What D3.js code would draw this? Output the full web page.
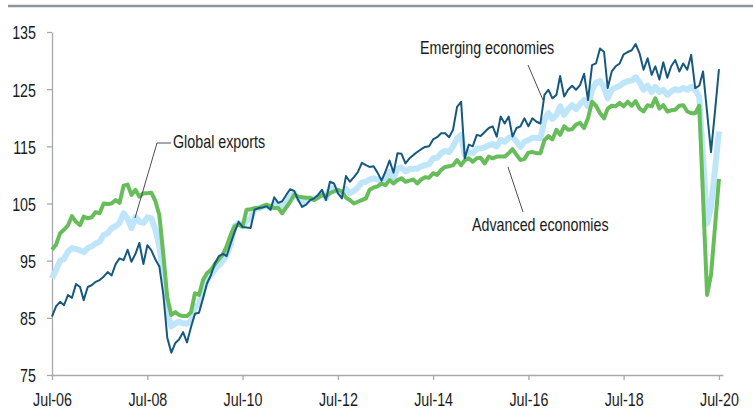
<!DOCTYPE html>
<html>
<head>
<meta charset="utf-8">
<script src="https://cdn.jsdelivr.net/npm/d3@7"></script>
<style>
  body { margin: 0; background: #fff; }
  text { font-family: "Liberation Sans", Arial, sans-serif; fill: #1a1a1a; }
</style>
</head>
<body>
<script>
// monthly index values, Jul-06 .. Jul-20
var emerging = [85.2,87.0,87.8,87.2,89.0,88.5,90.9,90.4,88.1,90.4,90.7,91.3,91.6,92.2,93.0,92.4,94.4,95.4,95.1,96.9,94.8,96.2,98.1,94.4,
  97.7,96.8,95.2,94.0,89.0,81.5,78.9,80.6,81.2,82.5,80.7,83.4,85.7,85.9,88.4,91.0,92.5,94.5,95.8,96.2,95.8,98.0,100.0,101.8,
  100.9,100.8,100.7,103.9,104.2,104.3,104.5,103.9,106.1,105.1,105.4,106.5,107.5,107.2,105.6,104.4,104.8,105.6,105.9,106.5,107.4,105.6,108.8,108.5,
  106.8,105.9,109.8,108.8,109.6,110.5,112.1,111.7,111.4,111.5,110.4,109.0,110.6,112.5,110.4,113.8,113.7,112.0,112.9,113.5,114.0,114.5,114.9,115.0,
  116.2,116.6,117.3,117.3,116.6,117.9,121.9,122.8,112.9,115.3,115.0,117.0,116.8,117.5,118.2,118.5,116.7,120.2,119.0,120.2,116.7,118.2,118.5,119.9,
  118.5,119.9,119.3,119.0,124.0,124.9,123.4,124.0,127.3,123.7,124.9,125.6,124.9,125.7,127.7,123.1,129.2,129.5,132.1,131.5,125.2,128.1,129.0,129.5,
  131.1,131.5,131.8,132.9,131.2,128.4,130.4,127.5,129.0,126.7,129.7,127.0,129.0,130.1,128.1,129.5,128.4,131.0,125.2,125.6,128.1,121.0,114.0,121.2,
  128.5];
var advanced = [96.9,97.8,99.8,100.4,101.2,102.8,101.8,101.2,102.7,102.4,102.6,103.5,103.3,105.0,104.9,105.0,105.6,105.1,108.1,108.3,106.5,107.4,106.2,106.8,
  106.8,106.9,105.4,103.0,96.0,88.5,85.5,86.0,85.5,85.3,85.3,86.0,89.3,89.0,91.6,92.8,93.4,94.4,95.3,96.1,97.5,99.5,101.0,101.3,
  101.0,103.9,104.0,104.2,104.2,104.5,104.8,104.5,104.2,104.2,103.3,104.3,105.3,106.5,106.2,106.1,106.0,106.0,105.6,106.0,106.5,106.3,106.8,107.1,
  107.4,107.1,106.0,105.6,105.0,105.3,105.6,105.9,107.4,107.8,108.0,108.5,108.2,109.1,108.5,109.1,109.4,108.8,109.0,109.2,108.5,109.2,109.6,109.5,
  110.3,110.0,110.9,111.4,111.5,111.7,112.6,111.7,112.6,112.9,112.3,112.9,113.0,112.0,113.2,112.9,113.2,113.2,113.2,113.8,114.5,113.5,112.6,112.8,
  113.9,114.0,113.8,113.8,116.1,116.8,116.2,117.9,117.0,118.5,117.9,118.0,118.8,119.1,118.2,119.9,122.8,122.1,120.8,119.9,121.6,122.1,122.0,122.6,
  122.0,122.8,122.1,122.9,121.6,121.1,122.2,122.0,123.4,121.6,122.2,121.1,121.3,121.4,122.1,122.2,121.1,120.8,120.8,122.1,106.0,89.0,92.5,101.0,
  109.3];
var globalExports = [91.9,93.4,95.0,95.3,96.6,97.2,97.0,96.8,96.5,97.2,97.5,98.0,98.3,99.5,99.8,100.7,101.0,101.6,103.3,102.3,100.7,102.6,101.8,101.6,
  102.6,102.4,100.4,97.5,92.5,86.0,83.5,84.0,84.3,84.0,84.0,84.5,86.8,87.4,89.6,91.6,92.5,93.5,94.2,95.0,96.0,97.8,101.0,101.6,
  101.0,102.0,102.3,104.0,104.2,104.4,104.6,104.2,105.0,104.7,104.3,105.2,106.2,106.8,105.9,105.2,105.4,105.8,105.8,106.2,106.9,105.9,107.6,107.7,
  107.1,106.6,107.5,106.8,107.2,107.8,108.7,108.8,109.2,109.4,109.2,108.8,109.6,110.5,109.5,111.1,111.3,110.6,111.0,111.1,111.1,111.5,111.7,111.9,
  112.9,113.0,113.8,114.2,114.0,115.0,116.4,117.0,113.5,114.0,113.8,114.6,114.6,114.8,115.2,115.4,115.0,116.1,115.8,116.5,116.7,115.8,114.9,115.8,
  116.1,116.5,116.5,116.4,119.6,120.8,119.8,120.5,122.0,120.5,121.5,122.2,121.5,122.4,123.1,122.0,124.9,126.1,126.4,125.3,123.4,124.9,125.3,125.6,
  126.1,126.4,126.5,127.1,126.2,124.9,125.6,124.5,125.4,124.5,124.9,124.0,124.6,125.0,124.8,125.2,124.9,125.4,124.9,123.7,113.0,101.5,104.5,111.0,
  117.6];
var xTickLabels = ["Jul-06","Jul-08","Jul-10","Jul-12","Jul-14","Jul-16","Jul-18","Jul-20"];
var yTicks = [75,85,95,105,115,125,135];

var width = 753, height = 414;
var stretch = 1.33;   // source text is drawn tall and narrow

var svg = d3.select("body").append("svg")
  .attr("width", width)
  .attr("height", height);

var start = new Date(2006, 6, 1);
var months = d3.range(emerging.length).map(function (i) { return d3.timeMonth.offset(start, i); });
var parseTick = d3.timeParse("%b-%y");

var x = d3.scaleTime()
  .domain([start, d3.timeMonth.offset(start, 169)])
  .range([52, 723]);
var y = d3.scaleLinear()
  .domain([75, 135])
  .range([375, 32]);

// top rule
svg.append("line")
  .attr("x1", 8).attr("x2", width)
  .attr("y1", 6).attr("y2", 6)
  .attr("stroke", "#8d949b")
  .attr("stroke-width", 2.5);

var yAxisG = svg.append("g")
  .attr("transform", "translate(52,0)")
  .call(d3.axisLeft(y).tickValues(yTicks).tickSize(5).tickSizeOuter(0).tickPadding(11));

var xAxisG = svg.append("g")
  .attr("transform", "translate(0,375)")
  .call(d3.axisBottom(x)
    .tickValues(xTickLabels.map(parseTick))
    .tickFormat(d3.timeFormat("%b-%y"))
    .tickSize(5).tickSizeOuter(0));

[yAxisG, xAxisG].forEach(function (g) {
  g.attr("font-family", null).attr("font-size", null);
  g.selectAll("path, line").attr("stroke", "#a6a9ad").attr("stroke-width", 1.3);
  g.selectAll("text").style("font-size", "14.3px");
});
yAxisG.selectAll("text").attr("transform", "scale(1," + stretch + ")").attr("dy", "0.36em");
xAxisG.selectAll("text").attr("y", 31.5 / stretch).attr("dy", 0)
  .attr("transform", "scale(1," + stretch + ")");

var line = d3.line()
  .x(function (d, i) { return x(months[i]); })
  .y(function (d) { return y(d); });

svg.append("path").datum(globalExports)
  .attr("d", line).attr("fill", "none")
  .attr("stroke", "#bfe5fa").attr("stroke-width", 6)
  .attr("stroke-linejoin", "round");
svg.append("path").datum(advanced)
  .attr("d", line).attr("fill", "none")
  .attr("stroke", "#68bd5b").attr("stroke-width", 4)
  .attr("stroke-linejoin", "round");
svg.append("path").datum(emerging)
  .attr("d", line).attr("fill", "none")
  .attr("stroke", "#17587f").attr("stroke-width", 2)
  .attr("stroke-linejoin", "round");

// series labels with leader lines
var labels = [
  { text: "Global exports", x: 173, y: 148, leader: [[171, 143], [157, 143], [135, 218]] },
  { text: "Emerging economies", x: 420, y: 54, leader: [[528, 65], [543, 100]] },
  { text: "Advanced economies", x: 472, y: 230.5, leader: [[508, 167], [523, 212]] }
];

svg.selectAll(".leader").data(labels).enter()
  .append("path")
  .attr("class", "leader")
  .attr("d", function (d) { return d3.line()(d.leader); })
  .attr("fill", "none")
  .attr("stroke", "#3a3a3a")
  .attr("stroke-width", 0.9);

svg.selectAll(".label").data(labels).enter()
  .append("text")
  .attr("class", "label")
  .attr("transform", function (d) { return "translate(" + d.x + "," + d.y + ") scale(1," + stretch + ")"; })
  .style("font-size", "14.3px")
  .text(function (d) { return d.text; });
</script>
</body>
</html>
